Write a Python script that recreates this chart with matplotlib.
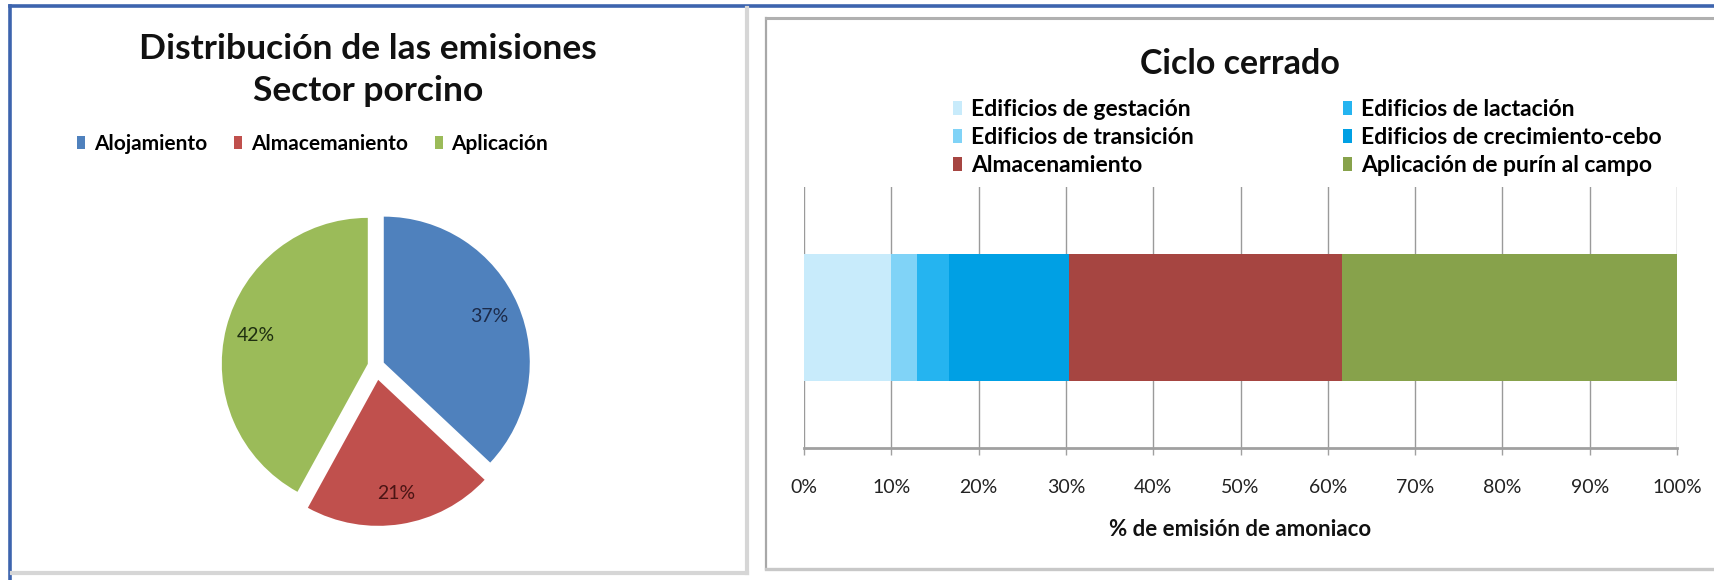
import matplotlib
matplotlib.use("Agg")
import matplotlib.pyplot as plt
from matplotlib.lines import Line2D

# ---------------- data ----------------
pie_labels = ["Alojamiento", "Almacemaniento", "Aplicación"]
pie_values = [37, 21, 42]
pie_colors = ["#4F81BD", "#C0504D", "#9BBB59"]
pie_text_colors = ["#1c2b4a", "#4a1414", "#1e2e10"]
pie_explode = [0.058, 0.096, 0.058]

bar_series = ["Edificios de gestación", "Edificios de transición",
              "Edificios de lactación", "Edificios de crecimiento-cebo",
              "Almacenamiento", "Aplicación de purín al campo"]
bar_values = [10.0, 2.9, 3.7, 13.7, 31.3, 38.4]
bar_colors = ["#C8EBFB", "#80D3F7", "#25B4F0", "#00A0E4", "#A64541", "#87A24B"]
x_ticks = [0, 10, 20, 30, 40, 50, 60, 70, 80, 90, 100]
x_ticklabels = [f"{t}%" for t in x_ticks]

W, H = 1714, 580
plt.rcParams['font.family'] = ['Lato', 'DejaVu Sans']
fig = plt.figure(figsize=(W / 100, H / 100), dpi=100)
fig.patch.set_facecolor("white")

def fx(px):
    return px / W

def fy(py):
    return 1 - py / H

# ---------------- frames ----------------
blue = "#3D64AE"
fig.add_artist(Line2D([fx(10), 1], [fy(6), fy(6)], color=blue, lw=2.6, transform=fig.transFigure))
fig.add_artist(Line2D([fx(10), fx(10)], [fy(6), 0], color=blue, lw=2.6, transform=fig.transFigure))
# left panel
fig.add_artist(Line2D([fx(747), fx(747)], [fy(8), fy(573)], color="#d6d6d6", lw=3, transform=fig.transFigure))
fig.add_artist(Line2D([fx(12), fx(747)], [fy(573), fy(573)], color="#d6d6d6", lw=3, transform=fig.transFigure))
# right panel
fig.add_artist(Line2D([fx(766), fx(766)], [fy(18), fy(569)], color="#a8a8a8", lw=1.6, transform=fig.transFigure))
fig.add_artist(Line2D([fx(766), 1], [fy(18), fy(18)], color="#b0b0b0", lw=2.2, transform=fig.transFigure))
fig.add_artist(Line2D([fx(766), 1], [fy(569), fy(569)], color="#c8c8c8", lw=2.4, transform=fig.transFigure))

# ---------------- pie ----------------
cx, cy, rpx = 376, 366, 146
L = 1.2
S = 2 * L * rpx
ax_pie = fig.add_axes([fx(cx - S / 2), fy(cy + S / 2), S / W, S / H])
wedges, texts, autotexts = ax_pie.pie(
    pie_values, colors=pie_colors, explode=pie_explode, startangle=90,
    counterclock=False, autopct="%d%%", pctdistance=0.79,
    wedgeprops=dict(linewidth=0), textprops=dict(fontsize=14))
for t, c in zip(autotexts, pie_text_colors):
    t.set_color(c)
ax_pie.set_xlim(-L, L)
ax_pie.set_ylim(-L, L)
ax_pie.set_aspect("equal")
ax_pie.axis("off")

fig.text(fx(368), fy(49), "Distribución de las emisiones", ha="center", va="center",
         fontsize=25.5, fontweight="bold", color="#111111")
fig.text(fx(368), fy(91), "Sector porcino", ha="center", va="center",
         fontsize=25.5, fontweight="bold", color="#111111")

fig.legend(wedges, pie_labels, loc="center left", bbox_to_anchor=(fx(77), fy(144)),
           ncol=3, frameon=False, handlelength=0.4, handleheight=0.55,
           handletextpad=0.4, columnspacing=1.3, borderpad=0, borderaxespad=0,
           prop=dict(weight="bold", size=15))

# ---------------- stacked bar ----------------
ax = fig.add_axes([fx(804), fy(448), (1677 - 804) / W, (448 - 187) / H])
left = 0.0
handles = []
for name, v, c in zip(bar_series, bar_values, bar_colors):
    b = ax.barh([0], [v], left=left, height=0.487, color=c, label=name, linewidth=0, zorder=3)
    handles.append(b[0])
    left += v
ax.set_xlim(0, 100)
ax.set_ylim(-0.5, 0.5)
ax.set_xticks(x_ticks)
ax.set_xticklabels(x_ticklabels, fontsize=14, color="#222222")
ax.set_yticks([])
ax.grid(axis="x", color="#9a9a9a", lw=1.0, zorder=0)
for s in ["top", "right", "left"]:
    ax.spines[s].set_visible(False)
ax.spines["bottom"].set_color("#a0a0a0")
ax.spines["bottom"].set_linewidth(2.0)
ax.tick_params(axis="x", length=5, width=1.0, color="#a0a0a0", pad=17)
ax.set_xlabel("% de emisión de amoniaco", fontsize=16, fontweight="bold",
              color="#111111", labelpad=17)

fig.text(fx(1240), fy(64), "Ciclo cerrado", ha="center", va="center",
         fontsize=24.5, fontweight="bold", color="#111111")

order = [0, 1, 4, 2, 3, 5]
fig.legend([handles[i] for i in order], [bar_series[i] for i in order],
           loc="upper left", bbox_to_anchor=(fx(953), fy(99)), ncol=2,
           frameon=False, handlelength=0.4, handleheight=0.55, handletextpad=0.4,
           columnspacing=6.5, labelspacing=0.31, borderpad=0, borderaxespad=0,
           prop=dict(weight="bold", size=16.5))

fig.savefig("out.png", dpi=100, facecolor="white")
